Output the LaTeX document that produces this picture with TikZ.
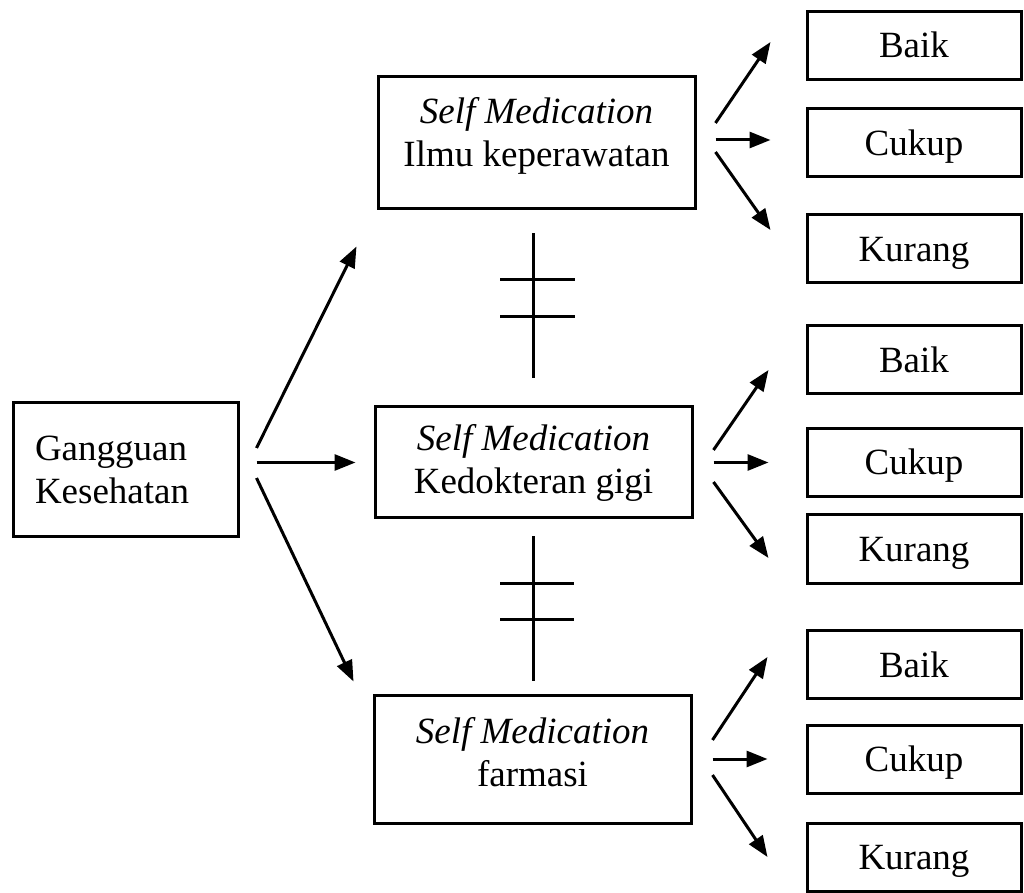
\documentclass[tikz,border=0pt]{standalone}
\usepackage{fontspec}
\setmainfont{Liberation Serif}
\usepackage{tikz}
\usetikzlibrary{shapes,arrows.meta}
\usetikzlibrary{positioning}
\tikzstyle{box} = [draw, rectangle, line width=1.5pt, inner sep=0pt,
    font=\fontsize{18.5}{21.5}\selectfont]
\tikzstyle{cause} = [box, minimum width=112.5pt, minimum height=67pt,
    text width=90.5pt, align=left, inner xsep=11pt]
\tikzstyle{medbox} = [box, minimum width=158.5pt, align=center]
\tikzstyle{result} = [box, minimum width=107pt, minimum height=34pt,
    text height=12.5pt, text depth=0pt]
\tikzstyle{arr} = [-{Triangle[length=10.5pt,width=8pt]}, line width=1.5pt]
\tikzstyle{neq} = [line width=1.5pt]

\begin{document}
\begin{tikzpicture}[x=0.5pt, y=-0.5pt]
  \useasboundingbox (0,0) rectangle (1024,893);
  \node [cause] (gk) at (125.5,470) {Gangguan\\Kesehatan};
  \node [medbox, minimum height=66pt, text depth=11pt] (sm1) at (536.5,143)
  {\textit{Self Medication}\\Ilmu keperawatan};
  \node [medbox, minimum height=55.5pt] (sm2) at (533.5,462.5)
  {\textit{Self Medication}\\Kedokteran gigi};
  \node [medbox, minimum height=64pt, text depth=7pt] (sm3) at (532.5,759)
  {\textit{Self Medication}\\farmasi};

  \node [result, right of=sm1, node distance=188.75pt] (c1) {Cukup};
  \node [result, above of=c1, node distance=48.75pt] (b1) {Baik};
  \node [result, below of=c1, node distance=53pt] (k1) {Kurang};
  \node [result, right of=sm2, node distance=190.25pt] (c2) {Cukup};
  \node [result, above of=c2, node distance=51.25pt] (b2) {Baik};
  \node [result, below of=c2, node distance=43.25pt] (k2) {Kurang};
  \node [result, right of=sm3, node distance=190.75pt] (c3) {Cukup};
  \node [result, above of=c3, node distance=47.25pt] (b3) {Baik};
  \node [result, below of=c3, node distance=49pt] (k3) {Kurang};

  \draw [arr] ([xshift=8.5pt,yshift=11pt]gk.east) -- ([xshift=-10pt,yshift=-18pt]sm1.south west);
  \draw [arr] ([xshift=8.5pt]gk.east |- sm2.west) -- ([xshift=-9pt]sm2.west);
  \draw [arr] ([xshift=8.5pt,yshift=-4pt]gk.east) -- ([xshift=-9.5pt,yshift=6pt]sm3.north west);

  \draw [arr] ([xshift=9.5pt,yshift=10pt]sm1.east) -- ([xshift=-17.5pt,yshift=1.75pt]b1.west);
  \draw [arr] ([xshift=9.5pt,yshift=1.5pt]sm1.east) -- ([xshift=-17.5pt,yshift=1.5pt]c1.west);
  \draw [arr] ([xshift=9.5pt,yshift=-4.5pt]sm1.east) -- ([xshift=-17.5pt,yshift=9.5pt]k1.west);

  \draw [arr] ([xshift=10pt,yshift=6.25pt]sm2.east) -- ([xshift=-18.5pt,yshift=-5pt]b2.west);
  \draw [arr] ([xshift=10pt]sm2.east) -- ([xshift=-18.5pt]c2.west);
  \draw [arr] ([xshift=10pt,yshift=-9.75pt]sm2.east) -- ([xshift=-18.5pt,yshift=-4.5pt]k2.west);

  \draw [arr] ([xshift=10pt,yshift=9.5pt]sm3.east) -- ([xshift=-19pt,yshift=3.75pt]b3.west);
  \draw [arr] ([xshift=10pt]sm3.east) -- ([xshift=-19pt]c3.west);
  \draw [arr] ([xshift=10pt,yshift=-8pt]sm3.east) -- ([xshift=-19pt]k3.west);

  \draw [neq] ([yshift=-11.5pt]sm2.north |- sm1.south) -- ([yshift=13.5pt]sm2.north);
  \draw [neq] (500,280) -- (575,280);
  \draw [neq] (500,317) -- (575,317);
  \draw [neq] ([yshift=-8.5pt]sm2.south) -- ([yshift=6.5pt]sm2.south |- sm3.north);
  \draw [neq] (500,583) -- (574,583);
  \draw [neq] (500,619) -- (574,619);
\end{tikzpicture}
\end{document}
